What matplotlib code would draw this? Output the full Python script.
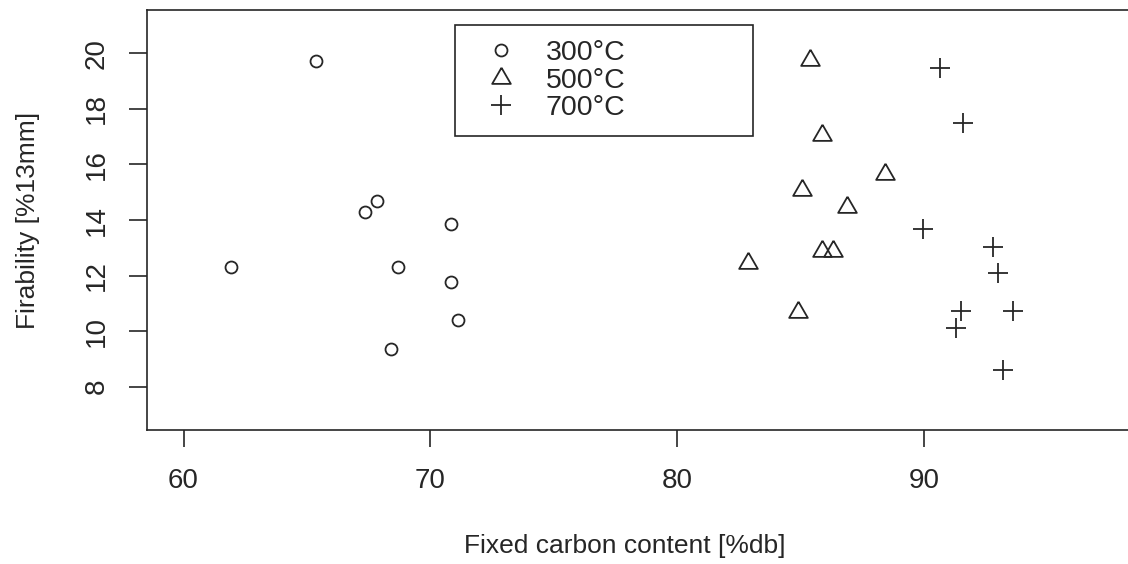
import matplotlib
matplotlib.use("Agg")
import matplotlib.pyplot as plt
import numpy as np

plt.rcParams["font.family"] = ["Liberation Sans", "DejaVu Sans"]

# data
x_300 = [61.94, 65.36, 67.35, 67.82, 68.68, 70.83, 70.83, 71.13, 68.41]
y_300 = [12.32, 19.72, 14.30, 14.67, 12.32, 13.87, 11.77, 10.40, 9.36]

x_500 = [85.39, 85.89, 88.42, 85.08, 86.89, 85.89, 86.30, 82.89, 84.88]
y_500 = [19.75, 17.07, 15.67, 15.07, 14.47, 12.88, 12.88, 12.46, 10.68]

x_700 = [90.64, 91.59, 89.97, 92.78, 92.99, 91.52, 93.61, 91.29, 93.21]
y_700 = [19.46, 17.50, 13.68, 13.02, 12.08, 10.74, 10.74, 10.10, 8.60]

labels = ["300°C", "500°C", "700°C"]
x_ticks = [60, 70, 80, 90]
y_ticks = [8, 10, 12, 14, 16, 18, 20]

ink = "#262626"
fs = 20

# R-style triangle (pch = 2), centred on its circumcentre
tri = [(0, 1), (0.866, -0.5), (-0.866, -0.5), (0, 1)]

fig = plt.figure(figsize=(11.28, 5.64), dpi=100)
ax = fig.add_axes([147 / 1128, 1 - 430 / 564, 0.8743, 420 / 564])

ax.plot(x_300, y_300, ls="none", marker="o", ms=8.6, mfc="none",
        mec=ink, mew=1.3, label=labels[0])
ax.plot(x_500, y_500, ls="none", marker=tri, ms=15.5, mfc="none",
        mec=ink, mew=1.3, label=labels[1])
ax.plot(x_700, y_700, ls="none", marker="+", ms=14.5,
        mec=ink, mew=1.3, label=labels[2])

ax.set_xlim(58.52, 98.48)
ax.set_ylim(6.44, 21.56)
ax.set_xticks(x_ticks)
ax.set_yticks(y_ticks)
ax.tick_params(axis="x", length=12, width=1.2, color=ink, pad=15,
               labelsize=fs, labelcolor=ink)
ax.tick_params(axis="y", length=13, width=1.2, color=ink, pad=14,
               labelsize=fs, labelcolor=ink)
for t in ax.get_yticklabels():
    t.set_rotation(90)
    t.set_va("center")

for s in ax.spines.values():
    s.set_color(ink)
    s.set_linewidth(1.2)
ax.spines["right"].set_visible(False)

fig.text(625 / 1128, 1 - 546 / 564, "Fixed carbon content [%db]",
         ha="center", va="center", fontsize=19, color=ink)
fig.text(28 / 1128, 1 - 220 / 564, "Firability [%13mm]", rotation=90,
         ha="center", va="center", fontsize=19, color=ink)

leg = ax.legend(loc="upper left", mode="expand",
                bbox_to_anchor=(455 / 1128, 1 - 136 / 564, 298 / 1128, 111 / 564),
                bbox_transform=fig.transFigure, fontsize=20.5,
                fancybox=False, framealpha=1, edgecolor=ink,
                handlelength=2.2, handletextpad=0.47, labelspacing=0.06,
                borderpad=0.52, borderaxespad=0)
leg.get_frame().set_linewidth(1.2)
for t in leg.get_texts():
    t.set_color(ink)

fig.savefig("out.png", dpi=100)
